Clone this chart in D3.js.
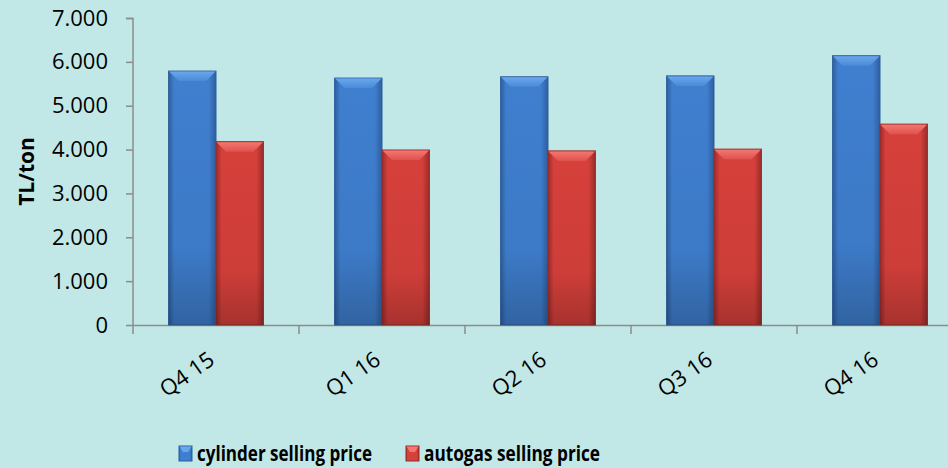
<!DOCTYPE html>
<html>
<head>
<meta charset="utf-8">
<script src="https://cdn.jsdelivr.net/npm/d3@7"></script>
<style>
  body { margin: 0; background: #c1e8e6; }
  svg { display: block; }
</style>
</head>
<body>
<div id="chart"></div>
<script>
// Data
const categories = ['Q4 15', 'Q1 16', 'Q2 16', 'Q3 16', 'Q4 16']
const seriesNames = ['cylinder selling price', 'autogas selling price']
const cylinder = [5790, 5630, 5660, 5680, 6140]
const autogas = [4180, 3990, 3970, 4010, 4580]
const yTicks = [0, 1000, 2000, 3000, 4000, 5000, 6000, 7000]

const rows = categories.map((c, i) => ({ cat: c, values: [cylinder[i], autogas[i]] }))

const width = 948, height = 468
const font = "'Open Sans', sans-serif"

const svg = d3.select('#chart').append('svg')
  .attr('width', width)
  .attr('height', height)

svg.append('rect').attr('width', width).attr('height', height).attr('fill', '#c1e8e6')

// gradients for the bevelled bars
const defs = svg.append('defs')
const palettes = [
  { id: 'blue', edge: '#2f5f9e', mid: '#3f7fcf', top: '#6aa6ea', topEdge: '#4a8ad8' },
  { id: 'red', edge: '#9a2c29', mid: '#d6403b', top: '#f27772', topEdge: '#e0524d' }
]
palettes.forEach(p => {
  const g = defs.append('linearGradient').attr('id', 'g-' + p.id)
    .attr('x1', 0).attr('x2', 1).attr('y1', 0).attr('y2', 0)
  g.append('stop').attr('offset', '0%').attr('stop-color', p.edge)
  g.append('stop').attr('offset', '12%').attr('stop-color', p.mid)
  g.append('stop').attr('offset', '85%').attr('stop-color', p.mid)
  g.append('stop').attr('offset', '100%').attr('stop-color', p.edge)
  const v = defs.append('linearGradient').attr('id', 'v-' + p.id)
    .attr('x1', 0).attr('x2', 0).attr('y1', 0).attr('y2', 1)
  v.append('stop').attr('offset', '0%').attr('stop-color', '#000').attr('stop-opacity', 0)
  v.append('stop').attr('offset', '70%').attr('stop-color', '#000').attr('stop-opacity', 0.04)
  v.append('stop').attr('offset', '100%').attr('stop-color', '#000').attr('stop-opacity', 0.22)
  const t = defs.append('linearGradient').attr('id', 't-' + p.id)
    .attr('x1', 0).attr('x2', 0).attr('y1', 0).attr('y2', 1)
  t.append('stop').attr('offset', '0%').attr('stop-color', p.top)
  t.append('stop').attr('offset', '100%').attr('stop-color', p.topEdge)
})

// Scales
const x = d3.scaleBand()
  .domain(categories)
  .range([133, 963])
  .padding(0)

const xSub = d3.scaleBand()
  .domain([0, 1])
  .range([0, x.bandwidth()])
  .paddingInner(0)
  .paddingOuter(0.75)

const y = d3.scaleLinear()
  .domain([0, 7000])
  .range([325, 18])

// Y axis
const yAxis = svg.append('g')
  .attr('transform', 'translate(133,0)')
  .call(d3.axisLeft(y).tickValues(yTicks).tickSize(7).tickPadding(18)
    .tickFormat(d => d3.format(',')(d).replace(/,/g, '.')))
yAxis.select('.domain').attr('stroke', '#8c8c8c').attr('stroke-width', 1.5)
  .attr('d', 'M-7,18.5H0V334')
yAxis.selectAll('.tick line').attr('stroke', '#8c8c8c').attr('stroke-width', 1.5)
yAxis.selectAll('.tick text')
  .attr('font-family', font)
  .attr('font-size', '22px')
  .attr('fill', '#000')

// X axis
const xAxis = svg.append('g')
  .attr('transform', 'translate(0,325)')
  .call(d3.axisBottom(x).tickSize(0).tickFormat(''))
xAxis.select('.domain').attr('stroke', '#8c8c8c').attr('stroke-width', 1.5)
xAxis.selectAll('.tick').remove()

// boundary ticks between categories
svg.append('g').selectAll('line')
  .data(categories)
  .join('line')
  .attr('x1', d => x(d) + x.bandwidth())
  .attr('x2', d => x(d) + x.bandwidth())
  .attr('y1', 325)
  .attr('y2', 334)
  .attr('stroke', '#8c8c8c')
  .attr('stroke-width', 1.5)

// category labels
svg.append('g').selectAll('text')
  .data(categories)
  .join('text')
  .attr('transform', d => `translate(${x(d) + x.bandwidth() / 2},363) rotate(-35)`)
  .attr('text-anchor', 'end')
  .attr('font-family', font)
  .attr('font-size', '22px')
  .attr('fill', '#000')
  .text(d => d)

// Bars
const groups = svg.append('g').selectAll('g')
  .data(rows)
  .join('g')
  .attr('transform', d => `translate(${x(d.cat)},0)`)

const bars = groups.selectAll('g')
  .data(d => d.values.map((v, i) => ({ v, i })))
  .join('g')

bars.append('rect')
  .attr('x', d => xSub(d.i))
  .attr('y', d => y(d.v))
  .attr('width', xSub.bandwidth())
  .attr('height', d => y(0) - y(d.v))
  .attr('fill', d => `url(#g-${palettes[d.i].id})`)
  .attr('stroke', d => palettes[d.i].edge)
  .attr('stroke-width', 1)

bars.append('rect')
  .attr('x', d => xSub(d.i))
  .attr('y', d => y(d.v))
  .attr('width', xSub.bandwidth())
  .attr('height', d => y(0) - y(d.v))
  .attr('fill', d => `url(#v-${palettes[d.i].id})`)

// top bevel
bars.append('path')
  .attr('d', d => {
    const x0 = xSub(d.i), w = xSub.bandwidth(), t = y(d.v), b = 10
    return `M${x0 + 0.5},${t + 0.5}H${x0 + w - 0.5}L${x0 + w - b},${t + b}H${x0 + b}Z`
  })
  .attr('fill', d => `url(#t-${palettes[d.i].id})`)

// Y label
svg.append('text')
  .attr('transform', `translate(34,${(y(0) + y(7000)) / 2}) rotate(-90)`)
  .attr('text-anchor', 'middle')
  .attr('font-family', font)
  .attr('font-weight', 'bold')
  .attr('font-size', '21px')
  .text('TL/ton')

// Legend
const legendX = [179, 406]
const legendW = [175, 176]
const legend = svg.append('g').selectAll('g')
  .data(seriesNames)
  .join('g')
  .attr('transform', (d, i) => `translate(${legendX[i]},446)`)

legend.append('rect')
  .attr('width', 13).attr('height', 15)
  .attr('fill', (d, i) => `url(#g-${palettes[i].id})`)
  .attr('stroke', (d, i) => palettes[i].edge)
legend.append('path')
  .attr('d', 'M0.5,0.5H12.5L9,6H4Z')
  .attr('fill', (d, i) => palettes[i].top)

legend.append('text')
  .attr('x', 18)
  .attr('y', 15)
  .attr('font-family', font)
  .attr('font-weight', 'bold')
  .attr('font-size', '22px')
  .attr('textLength', (d, i) => legendW[i])
  .attr('lengthAdjust', 'spacingAndGlyphs')
  .text(d => d)
</script>
</body>
</html>
